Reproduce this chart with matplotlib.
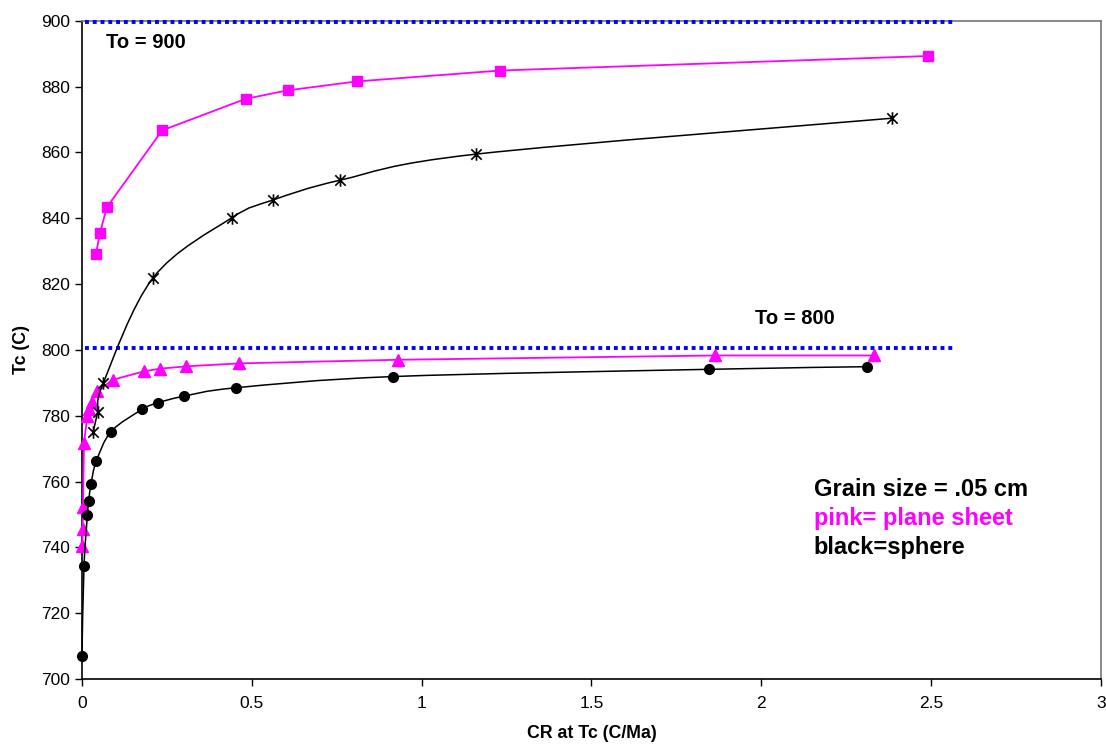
import numpy as np
import matplotlib
matplotlib.use("Agg")
import matplotlib.pyplot as plt
from matplotlib.path import Path
from matplotlib.patches import PathPatch

plt.rcParams['font.family'] = ['Liberation Sans', 'DejaVu Sans']

# plane sheet, To = 900 (pink squares)
sheet900_x = [0.041, 0.053, 0.073, 0.236, 0.482, 0.607, 0.811, 1.232, 2.490]
sheet900_y = [829.1, 835.5, 843.3, 866.7, 876.3, 878.9, 881.6, 884.9, 889.3]

# sphere, To = 900 (black stars)
sphere900_x = [0.033, 0.046, 0.063, 0.210, 0.442, 0.561, 0.761, 1.161, 2.384]
sphere900_y = [775.1, 781.1, 790.0, 822.0, 840.2, 845.5, 851.6, 859.5, 870.4]

# plane sheet, To = 800 (pink triangles)
sheet800_x = [0.001, 0.002, 0.003, 0.006, 0.016, 0.021, 0.029, 0.045, 0.090,
              0.183, 0.230, 0.307, 0.463, 0.929, 1.864, 2.332]
sheet800_y = [740.3, 745.7, 752.3, 771.8, 779.9, 782.1, 784.3, 787.4, 790.9,
              793.5, 794.3, 795.0, 795.9, 797.0, 798.3, 798.3]

# sphere, To = 800 (black circles)
sphere800_x = [0.0, 0.006, 0.016, 0.020, 0.027, 0.042, 0.086, 0.177, 0.223,
               0.299, 0.454, 0.916, 1.846, 2.311]
sphere800_y = [707.1, 734.2, 749.7, 754.2, 759.4, 766.1, 775.2, 781.9, 783.9,
               785.9, 788.5, 791.9, 794.1, 794.9]

to_levels = [899.6, 800.5]
to_line_end = 2.564


def smooth_path(xs, ys):
    # Excel-style smoothed line: cubic bezier through every point
    p = np.column_stack([xs, ys])
    n = len(p)
    verts = [p[0]]
    codes = [Path.MOVETO]
    for i in range(n - 1):
        p0 = p[i - 1] if i > 0 else p[i]
        p1 = p[i]
        p2 = p[i + 1]
        p3 = p[i + 2] if i + 2 < n else p[i + 1]
        c1 = p1 + (p2 - p0) / 6.0
        c2 = p2 - (p3 - p1) / 6.0
        verts += [c1, c2, p2]
        codes += [Path.CURVE4] * 3
    return Path(verts, codes)


star = Path([(-1, -1), (1, 1), (-1, 1), (1, -1), (0, -1.2), (0, 1.2)],
            [Path.MOVETO, Path.LINETO] * 3)

fig = plt.figure(figsize=(11.06, 7.44), dpi=100)
ax = fig.add_axes([0.0741, 0.0874, 0.9214, 0.8846])

for lvl in to_levels:
    ax.plot([0.008, to_line_end], [lvl, lvl], color='#0000FF', lw=2.8,
            linestyle=(0, (1, 1)), dash_capstyle='butt', zorder=3,
            clip_on=False)

ax.plot(sheet900_x, sheet900_y, color='#FF00FF', lw=1.3, marker='s', ms=7.5,
        mec='#FF00FF', mfc='#FF00FF', zorder=3, clip_on=False)
ax.plot(sheet800_x, sheet800_y, color='#FF00FF', lw=1.3, marker='^', ms=8,
        mec='#FF00FF', mfc='#FF00FF', zorder=3, clip_on=False)

ax.add_patch(PathPatch(smooth_path(sphere900_x, sphere900_y), fill=False,
                       ec='black', lw=1.1, zorder=4, clip_on=False))
ax.plot(sphere900_x, sphere900_y, ls='none', marker=star, ms=9, mew=1.2,
        mec='black', zorder=5, clip_on=False)
ax.add_patch(PathPatch(smooth_path(sphere800_x, sphere800_y), fill=False,
                       ec='black', lw=1.1, zorder=4, clip_on=False))
ax.plot(sphere800_x, sphere800_y, ls='none', marker='o', ms=7, color='black',
        zorder=5, clip_on=False)

ax.text(0.071, 893.3, 'To = 900', fontsize=14.5, fontweight='bold', va='center')
ax.text(1.98, 809.5, 'To = 800', fontsize=14.5, fontweight='bold', va='center')
ax.text(2.154, 757.6, 'Grain size = .05 cm', fontsize=17, fontweight='bold',
        va='center')
ax.text(2.154, 748.8, 'pink= plane sheet', fontsize=17, fontweight='bold',
        va='center', color='#FF00FF')
ax.text(2.154, 740.0, 'black=sphere', fontsize=17, fontweight='bold',
        va='center')

ax.set_xlim(0, 3)
ax.set_ylim(700, 900)
ax.set_xticks([0, 0.5, 1, 1.5, 2, 2.5, 3])
ax.set_xticklabels(['0', '0.5', '1', '1.5', '2', '2.5', '3'])
ax.set_yticks(range(700, 901, 20))
ax.tick_params(labelsize=12.5, direction='out', length=5, width=1)
ax.tick_params(axis='x', pad=7)
ax.set_xlabel('CR at Tc (C/Ma)', fontsize=12.8, fontweight='bold', labelpad=10)
ax.set_ylabel('Tc (C)', fontsize=12.8, fontweight='bold', labelpad=8)

for s in ['top', 'right']:
    ax.spines[s].set_color('#808080')
    ax.spines[s].set_linewidth(1.3)
for s in ['left', 'bottom']:
    ax.spines[s].set_linewidth(1.2)

fig.savefig('out.png', dpi=100)
